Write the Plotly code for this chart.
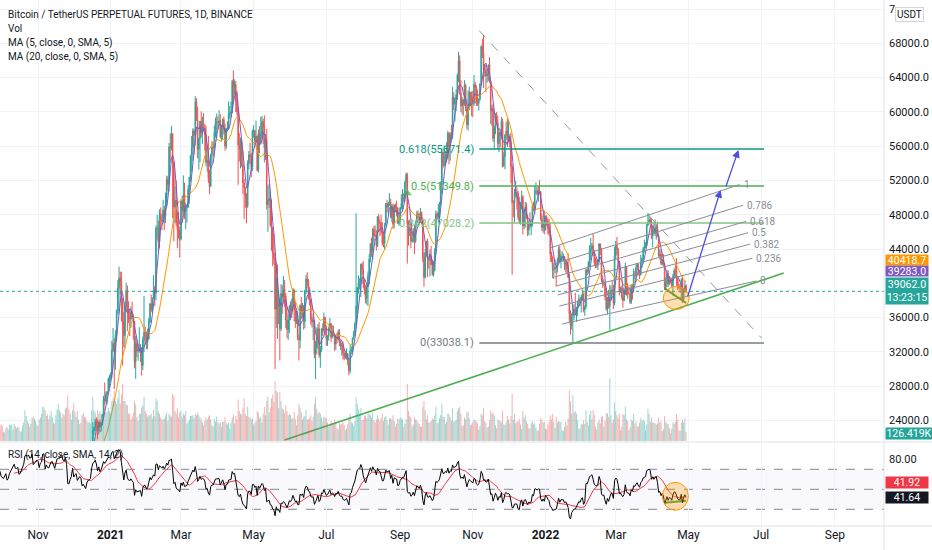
import pandas as pd
import numpy as np
import plotly.graph_objects as go

# ---------------- DATA (daily rows: close, high, low in thousand USDT; volume in thousand BTC) -------------
sep_2020 = [(10.79,10.94,10.63,210),(10.95,11.10,10.67,190),(10.94,11.04,10.75,200),(10.93,11.04,10.81,170),
            (11.08,11.18,10.89,150),(10.92,11.08,10.77,160),(10.42,10.99,10.31,260),(10.53,10.57,10.36,230),
            (10.24,10.54,10.14,240),(10.74,10.77,10.20,250),(10.69,10.77,10.57,190),(10.72,10.78,10.65,120),
            (10.77,10.80,10.63,130),(10.69,10.95,10.66,210),(10.84,10.86,10.64,220),(10.78,10.84,10.68,200)]
oct_2020 = [(10.62,10.92,10.52,230),(10.57,10.63,10.38,220),(10.55,10.60,10.50,130),(10.67,10.69,10.54,120),
            (10.79,10.80,10.63,180),(10.60,10.80,10.53,200),(10.67,10.69,10.58,160),(10.92,10.95,10.53,230),
            (11.06,11.11,10.83,220),(11.30,11.49,11.05,230),(11.38,11.44,11.28,160),(11.54,11.72,11.25,240),
            (11.43,11.56,11.30,210),(11.43,11.55,11.27,180),(11.50,11.62,11.27,200),(11.32,11.54,11.22,190),
            (11.36,11.40,11.30,130),(11.50,11.52,11.33,140),(11.75,11.82,11.41,220),(11.92,12.03,11.68,260),
            (12.82,13.24,11.90,430),(12.97,13.18,12.70,350),(12.93,13.03,12.72,280),(13.12,13.17,12.88,250),
            (13.03,13.34,12.90,200),(13.07,13.25,12.78,240),(13.64,13.79,13.05,330),(13.28,13.86,13.13,340),
            (13.46,13.65,12.97,310),(13.56,13.67,13.10,280),(13.80,14.10,13.43,230)]
nov_2020 = [(13.76,13.90,13.62,210),(13.55,13.82,13.20,300),(14.03,14.07,13.29,330),(14.15,14.25,13.53,380),
            (15.59,15.76,14.09,480),(15.59,15.97,15.20,470),(14.83,15.77,14.34,430),(15.48,15.66,14.71,350),
            (15.33,15.84,14.80,370),(15.30,15.48,15.09,300),(15.70,15.97,15.27,360),(16.28,16.48,15.44,420),
            (16.32,16.48,15.95,330),(16.07,16.33,15.71,260),(15.96,16.16,15.80,240),(16.73,16.88,15.87,360),
            (17.66,17.86,16.55,440),(17.80,18.48,17.21,520),(17.82,18.14,17.35,430),(18.68,18.80,17.75,400),
            (18.70,18.97,18.03,330),(18.42,18.75,17.61,380),(18.37,18.77,18.00,360),(19.16,19.42,18.06,450),
            (18.72,19.49,18.54,470),(17.15,18.93,16.33,640),(17.14,17.46,16.52,440),(17.72,17.88,16.88,380),
            (18.18,18.34,17.54,300),(19.70,19.86,18.18,430)]
dec_2020 = [(18.79,19.92,18.32,530),(19.22,19.30,18.51,410),(19.45,19.59,18.86,340),(18.70,19.52,18.56,420),
            (19.15,19.18,18.52,300),(19.36,19.42,18.86,240),(19.17,19.42,18.90,260),(18.32,19.30,18.20,360),
            (18.55,18.64,17.65,390),(18.25,18.56,17.91,340),(18.04,18.28,17.57,330),(18.80,18.95,18.02,280),
            (19.17,19.41,18.71,260),(19.27,19.35,19.00,270),(19.44,19.57,19.05,250),(21.35,21.55,19.28,430),
            (22.80,23.77,21.23,620),(23.13,23.28,22.35,430),(23.86,24.17,22.75,400),(23.48,24.30,23.07,340),
            (22.75,24.10,21.82,430),(23.82,23.85,22.35,380),(23.24,24.10,22.60,420),(23.73,23.79,22.70,380),
            (24.69,24.78,23.42,300),(26.49,26.87,24.50,430),(26.27,28.42,25.83,550),(27.04,27.39,26.10,400),
            (27.35,27.40,25.88,410),(28.89,28.99,27.32,470),(28.98,29.30,27.85,420)]
jan_2021 = [(29.37,29.60,28.62,380),(32.20,33.30,28.95,560),(33.00,34.78,31.96,600),(32.03,33.60,27.68,700),
            (34.03,34.50,29.90,560),(36.82,36.94,33.30,520),(39.43,40.36,36.30,600),(40.61,41.95,36.50,720),
            (40.24,41.37,38.72,520),(38.24,41.35,35.55,650),(35.54,38.26,30.40,800),(33.91,36.63,32.53,560),
            (37.39,37.85,32.38,560),(39.15,40.10,36.70,510),(36.77,39.75,34.41,500),(36.01,37.90,35.36,380),
            (35.80,36.85,33.85,380),(36.63,37.30,34.81,300),(36.02,37.85,35.87,340),(35.55,36.42,33.40,400),
            (30.83,35.60,30.07,560),(32.98,33.83,28.85,510),(32.08,33.46,31.39,340),(32.27,32.94,30.96,280),
            (32.27,34.88,31.90,380),(32.51,32.92,30.84,380),(30.41,32.56,29.24,470),(33.40,33.78,29.88,500),
            (34.30,38.53,31.99,620),(34.27,34.93,32.86,420),(33.10,34.32,32.30,380)]
feb_2021 = [(33.52,34.72,32.30,340),(35.48,35.98,33.40,360),(37.62,37.66,35.36,360),(36.94,38.69,36.62,380),
            (38.29,38.31,36.57,320),(39.22,40.96,38.22,440),(38.87,39.69,37.35,350),(46.40,46.75,38.03,600),
            (46.48,48.00,45.10,560),(44.81,47.31,43.73,420),(47.97,48.63,44.09,380),(47.41,48.85,46.25,330),
            (47.23,48.14,46.20,300),(48.59,49.70,47.00,300),(47.91,49.00,46.20,320),(49.13,50.58,47.02,360),
            (52.12,52.58,48.95,400),(51.55,52.50,50.90,280),(55.91,56.37,50.70,380),(55.89,57.50,54.10,360),
            (57.41,58.35,55.50,340),(54.09,57.55,47.60,660),(48.90,54.20,44.90,630),(49.68,51.30,47.00,420),
            (47.07,52.00,46.70,380),(46.28,48.40,44.10,460),(46.20,48.25,45.20,330),(45.14,46.65,43.00,400)]
mar_2021 = [(49.59,49.78,45.00,420),(48.44,50.20,47.05,330),(50.35,52.60,48.10,380),(48.37,51.75,47.50,360),
            (48.76,49.40,46.30,420),(48.88,49.20,47.07,240),(50.97,51.45,48.86,270),(52.38,52.40,49.27,300),
            (54.88,54.90,51.85,350),(55.86,57.20,53.00,350),(57.80,58.10,54.27,360),(57.26,58.00,55.06,320),
            (61.20,61.84,56.08,380),(59.00,61.60,58.95,360),(55.63,60.60,54.60,400),(56.90,56.95,53.27,360),
            (58.90,58.98,54.12,330),(57.64,60.07,57.02,300),(58.30,59.45,56.27,260),(58.10,59.88,57.82,220),
            (57.35,58.60,55.45,280),(54.08,58.43,53.65,330),(54.34,55.85,53.00,300),(52.30,57.20,51.70,340),
            (51.30,53.25,50.40,360),(55.04,55.10,51.32,300),(55.84,56.58,53.98,220),(55.78,56.55,54.70,200),
            (57.61,58.40,54.90,310),(58.78,59.35,57.03,270),(58.80,59.80,56.90,340)]
apr_2021 = [(58.74,59.46,57.93,270),(58.98,60.20,58.42,240),(57.06,59.75,56.90,260),(58.20,58.50,56.55,200),
            (59.12,59.24,56.80,270),(57.98,59.45,57.38,270),(56.00,58.65,55.47,340),(58.07,58.15,55.70,250),
            (58.10,58.88,57.70,230),(59.77,61.23,57.90,260),(59.83,60.70,59.20,170),(59.96,61.20,59.40,260),
            (63.58,63.77,59.85,330),(62.96,64.85,61.30,370),(63.22,63.80,62.02,250),(61.33,63.60,60.00,350),
            (60.02,62.50,59.60,300),(56.15,60.40,51.50,580),(55.67,57.52,54.20,420),(56.47,57.00,53.40,380),
            (53.80,56.72,53.60,370),(51.70,55.50,50.40,460),(51.15,52.15,47.50,600),(50.10,51.20,48.80,380),
            (49.00,50.50,47.00,350),(54.00,54.35,48.80,480),(55.00,55.45,53.30,340),(54.85,56.40,53.90,330),
            (53.55,55.20,52.35,300),(57.75,57.95,53.10,320)]
may_2021 = [(57.80,58.45,57.00,230),(56.58,57.90,56.05,250),(57.17,58.98,56.45,280),(53.20,57.20,53.05,420),
            (57.50,57.95,52.90,400),(56.40,58.35,55.20,320),(57.35,59.45,56.20,330),(58.85,59.50,56.90,260),
            (58.25,59.20,56.25,380),(55.80,59.60,54.10,480),(56.70,57.00,54.40,360),(49.20,58.00,48.60,560),
            (49.70,51.40,46.00,620),(49.90,51.60,48.80,400),(46.75,50.70,46.60,470),(46.40,49.80,43.80,600),
            (43.55,46.60,42.00,650),(42.90,45.80,42.20,550),(37.00,43.50,30.00,840),(40.60,42.40,34.80,700),
            (37.30,42.20,33.50,680),(37.50,38.80,35.25,460),(34.70,38.25,31.00,690),(38.80,39.90,34.40,560),
            (38.35,39.80,36.40,460),(39.30,40.85,37.80,440),(38.50,40.40,37.20,390),(35.70,38.85,34.75,500),
            (34.60,37.30,33.60,420),(35.70,36.45,33.40,360),(37.30,37.50,34.20,380)]
jun_2021 = [(36.70,37.90,35.70,360),(37.60,38.20,35.95,310),(39.25,39.45,37.20,320),(36.85,39.30,35.60,410),
            (35.50,37.90,34.80,300),(35.80,36.80,35.25,220),(33.55,36.75,33.35,360),(33.40,34.05,31.00,520),
            (37.40,37.55,32.40,470),(36.70,38.40,35.80,400),(37.35,37.70,35.95,300),(35.55,37.45,34.60,340),
            (39.10,39.25,34.75,350),(40.50,41.00,38.75,440),(40.15,41.30,39.50,300),(38.35,40.50,38.10,300),
            (38.10,39.55,37.40,320),(35.80,38.20,35.15,360),(35.50,36.45,34.85,280),(35.60,36.10,33.35,340),
            (31.70,35.75,31.25,520),(32.50,33.30,28.80,620),(33.70,34.85,31.70,450),(34.70,35.25,32.30,380),
            (31.60,35.50,31.30,410),(32.20,32.70,30.15,380),(34.70,34.75,32.00,330),(34.50,35.30,33.85,270),
            (36.00,36.60,34.25,340),(35.00,36.10,34.00,330)]
jul_2021 = [(33.50,35.05,32.70,320),(33.80,33.95,32.70,260),(34.70,34.95,33.30,200),(35.30,35.95,34.40,220),
            (33.70,35.30,33.15,280),(34.20,35.10,33.55,250),(33.90,35.05,33.80,240),(32.90,33.95,32.10,300),
            (33.80,34.05,32.25,260),(33.50,34.25,33.00,180),(34.30,34.60,33.30,160),(33.10,34.65,32.65,250),
            (32.70,33.35,32.20,230),(32.80,33.10,31.55,240),(31.80,33.20,31.10,270),(31.40,32.25,31.00,230),
            (31.50,31.95,31.15,150),(31.80,32.40,31.10,170),(30.80,31.85,30.40,230),(29.80,31.05,29.25,330),
            (32.10,32.85,29.50,380),(32.30,32.60,31.70,260),(33.60,33.65,32.00,250),(34.30,34.45,33.40,210),
            (35.40,35.40,33.85,280),(37.30,48.17,35.20,620),(39.50,39.55,36.40,520),(40.00,40.90,38.80,440),
            (40.00,40.60,39.30,380),(42.20,42.30,38.40,460),(41.60,42.40,41.00,290)]
aug_2021 = [(39.90,42.60,39.45,300),(39.20,40.45,38.70,350),(38.20,39.80,37.65,360),(39.70,39.95,37.50,320),
            (40.90,41.40,37.35,380),(42.80,43.40,39.85,380),(44.60,44.70,42.45,360),(43.80,45.30,43.10,330),
            (46.30,46.45,42.80,400),(45.60,46.70,44.95,290),(45.55,46.75,45.35,260),(44.40,46.20,43.80,300),
            (47.80,47.85,44.25,360),(47.10,48.10,45.95,310),(47.00,47.40,45.50,280),(46.00,48.00,45.70,320),
            (44.70,47.15,44.40,380),(44.70,46.00,44.20,280),(46.80,47.05,43.95,330),(49.30,49.35,46.65,350),
            (48.90,49.75,48.30,290),(49.30,49.50,48.10,230),(49.50,50.50,49.05,320),(47.70,49.85,47.60,320),
            (49.00,49.25,47.15,300),(46.90,49.30,46.35,360),(49.10,49.20,46.40,280),(48.90,49.30,48.40,200),
            (48.80,49.65,47.80,240),(47.00,48.90,46.90,320),(47.20,48.25,46.70,300)]
sep_2021 = [(48.80,48.90,46.90,330),(49.30,50.40,48.60,320),(50.00,51.00,48.40,300),(49.90,50.55,49.50,200),
            (51.80,51.90,49.50,240),(52.70,52.95,50.95,300),(46.90,52.90,42.30,800),(46.10,47.35,44.40,420),
            (46.40,47.40,45.50,350),(44.90,47.00,44.10,330),(45.20,45.95,44.75,200),(46.10,46.45,44.75,230),
            (44.90,46.85,43.40,340),(47.10,47.25,44.70,300),(48.10,48.45,46.75,290),(47.80,48.50,47.05,260),
            (47.30,48.15,46.80,240),(48.30,48.80,47.05,200),(47.30,48.35,46.85,200),(43.00,47.35,42.50,480),
            (40.70,43.60,39.60,560),(43.60,44.00,40.55,430),(44.90,44.95,43.10,300),(42.80,45.20,40.70,360),
            (42.70,42.95,41.70,260),(43.20,43.95,40.80,260),(42.20,44.35,42.10,280),(41.00,42.80,40.90,320),
            (41.50,42.60,40.80,300),(43.80,44.10,41.40,360)]
oct_2021 = [(48.10,48.50,43.30,480),(47.70,48.35,47.45,250),(48.20,49.25,47.10,260),(49.20,49.50,46.90,320),
            (51.50,51.90,49.05,360),(55.30,55.75,50.40,520),(53.80,55.30,53.40,340),(53.90,56.10,53.60,340),
            (55.00,55.45,53.70,240),(54.70,56.50,54.10,270),(57.50,57.80,54.45,380),(56.00,57.65,53.90,380),
            (57.40,57.65,54.30,340),(57.30,58.50,56.85,280),(61.70,62.90,56.85,460),(60.90,62.30,60.20,270),
            (61.50,61.70,58.90,280),(62.00,62.65,60.10,300),(64.30,64.50,61.40,420),(66.00,67.00,63.50,460),
            (62.20,66.60,62.00,480),(60.70,63.70,60.00,380),(61.40,61.75,59.70,210),(60.90,61.50,59.50,220),
            (63.10,63.70,60.70,330),(60.40,63.30,60.10,300),(58.50,61.50,58.00,400),(60.60,62.50,57.80,410),
            (62.30,62.95,60.20,320),(61.90,62.30,60.70,220),(61.30,62.40,59.50,230)]
nov_2021 = [(61.00,62.45,59.40,260),(63.20,64.30,60.70,300),(62.90,63.50,61.00,290),(61.40,63.10,60.70,270),
            (61.00,62.60,60.70,250),(61.50,61.60,60.15,160),(63.30,63.30,61.30,210),(67.60,67.80,63.10,380),
            (66.90,68.50,66.30,360),(64.90,69.00,62.80,460),(64.90,65.60,64.10,280),(64.20,65.50,62.30,260),
            (64.40,65.00,63.40,190),(65.50,65.50,63.60,200),(63.60,66.40,63.40,290),(60.10,63.60,58.60,430),
            (60.40,60.80,58.40,380),(56.90,60.95,56.50,400),(58.10,58.40,55.60,360),(59.70,59.85,57.40,220),
            (58.70,60.00,58.50,180),(56.30,59.50,55.65,300),(57.60,58.00,55.30,290),(57.20,57.80,55.85,280),
            (58.90,59.40,56.80,260),(53.70,59.20,53.50,420),(54.80,55.30,53.60,230),(57.30,57.40,53.30,230),
            (57.80,58.85,56.70,270),(57.00,59.20,55.90,350)]
dec_2021 = [(57.20,59.05,56.50,300),(56.50,57.40,55.85,250),(53.60,57.60,51.70,350),(49.40,53.90,41.00,660),
            (49.40,49.70,47.70,300),(50.60,51.00,47.10,380),(50.60,51.95,50.00,250),(50.50,51.20,48.60,280),
            (47.70,50.80,47.40,270),(47.20,50.10,46.90,310),(49.40,49.50,46.85,230),(50.10,50.80,48.65,170),
            (46.70,50.30,45.70,420),(48.40,48.70,46.30,320),(48.90,49.50,46.50,360),(47.60,49.40,47.50,280),
            (46.20,48.00,45.50,240),(46.90,47.30,45.60,180),(46.70,48.30,46.40,180),(46.90,47.50,45.60,250),
            (49.00,49.30,46.60,280),(48.60,49.55,48.40,230),(50.80,51.35,48.10,250),(50.80,51.80,50.40,190),
            (50.40,51.20,50.20,140),(50.80,51.30,49.50,150),(50.70,52.05,50.50,240),(47.50,50.70,47.30,320),
            (46.50,48.10,46.10,300),(47.10,47.90,45.90,260),(46.20,48.50,45.70,270)]
jan_2022 = [(47.70,47.90,46.20,170),(47.30,47.95,46.70,160),(46.40,47.55,45.70,230),(45.80,47.50,45.50,270),
            (43.40,47.05,42.50,360),(43.10,43.70,42.45,300),(41.60,43.10,40.60,380),(41.70,42.30,40.50,270),
            (41.90,42.80,41.20,180),(41.80,42.20,39.60,340),(42.70,43.00,41.25,260),(43.90,44.30,42.45,280),
            (42.60,44.40,42.30,270),(43.10,43.45,41.75,270),(43.10,43.80,42.60,150),(43.10,43.50,42.60,140),
            (42.20,43.20,41.55,200),(42.40,42.70,41.25,270),(41.70,42.60,41.10,220),(40.70,43.50,40.60,310),
            (36.45,41.10,35.50,710),(35.05,36.85,34.00,560),(36.25,36.50,34.60,380),(36.65,37.50,33.04,640),
            (36.95,37.55,35.70,400),(36.80,38.90,36.25,420),(37.15,37.25,35.50,380),(37.70,38.00,36.15,290),
            (38.15,38.70,37.30,170),(37.90,38.35,37.35,180),(38.45,38.70,36.60,240)]
feb_2022 = [(38.70,39.25,38.00,230),(36.90,38.85,36.60,290),(37.30,37.40,36.20,240),(41.55,41.70,37.00,430),
            (41.40,41.90,40.95,270),(42.40,42.60,41.10,220),(43.80,44.45,41.90,370),(44.00,45.30,42.70,420),
            (44.40,44.70,43.15,300),(43.50,45.80,43.20,430),(42.40,43.90,42.00,360),(42.20,43.00,41.75,200),
            (42.10,42.75,41.80,160),(42.50,42.80,41.55,260),(44.60,44.70,42.40,300),(43.90,44.55,43.30,250),
            (40.50,44.15,40.10,340),(40.00,40.95,39.45,350),(40.10,40.45,39.65,200),(38.40,40.10,38.00,280),
            (37.00,39.45,36.80,380),(38.30,38.40,36.35,390),(37.30,39.25,37.05,340),(38.30,39.80,34.50,880),
            (39.20,39.70,38.00,360),(39.10,40.30,38.60,260),(37.70,39.80,37.00,300),(43.20,44.25,37.45,540)]
mar_2022 = [(44.40,44.95,42.80,420),(44.00,45.40,43.35,360),(42.45,44.10,41.85,320),(39.15,42.50,38.60,380),
            (39.40,39.60,38.90,150),(38.40,39.70,38.10,200),(38.00,39.50,37.15,380),(38.70,39.35,37.90,360),
            (41.95,42.40,38.65,480),(39.40,42.00,38.55,300),(38.80,40.00,38.20,280),(38.80,39.50,38.70,150),
            (37.80,39.30,37.60,190),(39.65,39.90,37.60,300),(39.30,39.90,38.10,280),(41.10,41.70,38.90,380),
            (40.90,41.45,40.50,240),(41.80,42.30,40.15,270),(42.20,42.40,41.50,200),(41.30,42.30,40.90,210),
            (41.00,41.55,40.50,260),(42.40,43.35,40.90,320),(42.90,43.00,41.80,280),(44.00,44.25,42.60,300),
            (44.30,45.10,43.60,280),(44.50,44.80,44.10,150),(46.80,46.90,44.40,230),(47.10,48.20,46.65,450),
            (47.40,48.10,46.90,380),(47.10,47.70,46.50,270),(45.50,47.60,45.20,330)]
apr_2022 = [(46.30,46.70,44.20,260),(45.80,47.20,45.70,260),(46.40,47.45,45.50,250),(46.60,46.90,45.10,230),
            (45.50,47.20,45.40,250),(43.20,45.50,43.10,330),(43.40,43.90,42.75,260),(42.30,43.95,42.10,280),
            (42.80,42.80,42.10,140),(42.20,43.40,42.00,170),(39.50,42.40,39.20,350),(40.10,40.70,39.25,270),
            (41.10,41.55,39.55,240),(39.90,41.50,39.60,240),(40.50,40.85,39.80,180),(40.40,40.70,40.00,110),
            (39.70,40.60,39.55,170),(40.80,41.10,38.55,260),(41.50,41.75,40.55,240),(41.40,42.20,40.80,270),
            (40.50,42.95,39.75,380),(39.70,40.80,39.20,300),(39.45,39.95,39.30,150),(39.45,39.90,38.90,140),
            (40.40,40.60,38.20,260),(38.10,40.80,37.70,300),(39.20,39.45,37.90,260),(39.70,40.35,38.90,320),
            (39.062,39.90,38.90,126.419)]

MONTHS = [("2020-09-15", sep_2020), ("2020-10-01", oct_2020), ("2020-11-01", nov_2020), ("2020-12-01", dec_2020),
          ("2021-01-01", jan_2021), ("2021-02-01", feb_2021), ("2021-03-01", mar_2021), ("2021-04-01", apr_2021),
          ("2021-05-01", may_2021), ("2021-06-01", jun_2021), ("2021-07-01", jul_2021), ("2021-08-01", aug_2021),
          ("2021-09-01", sep_2021), ("2021-10-01", oct_2021), ("2021-11-01", nov_2021), ("2021-12-01", dec_2021),
          ("2022-01-01", jan_2022), ("2022-02-01", feb_2022), ("2022-03-01", mar_2022), ("2022-04-01", apr_2022)]

# price-scale value labels shown in the reference
LAST_PRICE = 39062.0
MA20_LABEL = "40418.7"
MA5_LABEL = "39283.0"
COUNTDOWN = "13:23:15"
VOL_LABEL = "126.419K"
VOL_LAST = 126.419
RSI_MA_LABEL = "41.92"
RSI_LABEL = "41.64"

PRICE_TICKS = [24000, 28000, 32000, 36000, 44000, 48000, 52000, 56000, 60000, 64000, 68000, 72000]
PRICE_TICK_TEXT = ["24000.0", "28000.0", "32000.0", "36000.0", "44000.0", "48000.0", "52000.0",
                   "56000.0", "60000.0", "64000.0", "68000.0", "7"]
RSI_TICKS = [80]
X_TICKS = ["2020-11-01", "2021-01-01", "2021-03-01", "2021-05-01", "2021-07-01", "2021-09-01",
           "2021-11-01", "2022-01-01", "2022-03-01", "2022-05-01", "2022-07-01", "2022-09-01"]
X_TICK_TEXT = ["Nov", "<b>2021</b>", "Mar", "May", "Jul", "Sep", "Nov", "<b>2022</b>", "Mar", "May", "Jul", "Sep"]

# drawings (anchor points: date, price)
FIB_LOW, FIB_HIGH = 33038.1, 69661.5
FIB_LEVELS = [0, 0.382, 0.5, 0.618]
FIB_COLORS = {0: "#787b86", 0.382: "#81c784", 0.5: "#4caf50", 0.618: "#089981"}
FIB_X = ("2021-11-06 10:00", "2022-07-03 10:00")
CH0 = (("2022-01-15", 35250), ("2022-06-27", 40270))      # channel level 0
CH1 = (("2022-01-05", 44120), ("2022-06-13", 51530))      # channel level 1
CH_LEVELS = [0, 0.236, 0.382, 0.5, 0.618, 0.786, 1]
DIAG = (("2021-11-06 10:00", 69480), ("2022-07-01 12:00", 33580))
TREND = (("2021-05-27", 21710), ("2022-07-20", 41200))
SMALL_GREEN = (("2022-04-11", 39400), ("2022-04-29", 37700))
ARROW1 = (("2022-04-30", 38290), ("2022-05-28", 50890))
ARROW2 = (("2022-06-01", 51120), ("2022-06-12", 55560))
CIRCLE_PRICE = ("2022-04-20 18:00", 38285)
CIRCLE_RSI = ("2022-04-20", 43.0)
RSI_GREEN = (("2022-04-11", 36.6), ("2022-04-29", 38.6))
MARK_UP = ("2021-09-07", 50500)

# ---------------- BUILD ----------------
frames = []
for start, rows in MONTHS:
    idx = pd.date_range(start, periods=len(rows), freq="D")
    frames.append(pd.DataFrame(rows, index=idx, columns=["close", "high", "low", "vol"]))
df = pd.concat(frames)
df[["close", "high", "low"]] = df[["close", "high", "low"]] * 1000
df["open"] = df["close"].shift(1).fillna(df["close"])
df["high"] = df[["high", "open", "close"]].max(axis=1)
df["low"] = df[["low", "open", "close"]].min(axis=1)

ma5 = df["close"].rolling(5).mean()
ma20 = df["close"].rolling(20).mean()
delta = df["close"].diff()
gain = delta.clip(lower=0)
loss = -delta.clip(upper=0)
ag = gain.ewm(alpha=1/14, adjust=False, min_periods=14).mean()
al = loss.ewm(alpha=1/14, adjust=False, min_periods=14).mean()
rsi = 100 - 100 / (1 + ag / al)
rsi_ma = rsi.rolling(14).mean()

UP, DN = "#26a69a", "#ef5350"
vol_colors = np.where(df["close"] >= df["open"], "rgba(38,166,154,0.5)", "rgba(239,83,80,0.5)")

TXT = "#131722"
GRID = "#f0f3fa"
FONT = "Roboto"

fig = go.Figure()
fig.add_trace(go.Bar(x=df.index, y=df["vol"], marker=dict(color=vol_colors, line=dict(width=0)),
                     xaxis="x", yaxis="y3", hoverinfo="skip", showlegend=False))
fig.add_trace(go.Candlestick(x=df.index, open=df["open"], high=df["high"], low=df["low"], close=df["close"],
                             increasing=dict(line=dict(color=UP, width=1), fillcolor=UP),
                             decreasing=dict(line=dict(color=DN, width=1), fillcolor=DN),
                             whiskerwidth=0, xaxis="x", yaxis="y", showlegend=False, hoverinfo="skip"))
fig.add_trace(go.Scatter(x=df.index, y=ma20, mode="lines", line=dict(color="#ff9800", width=1),
                         xaxis="x", yaxis="y", hoverinfo="skip", showlegend=False))
fig.add_trace(go.Scatter(x=df.index, y=ma5, mode="lines", line=dict(color="#7e57c2", width=1),
                         xaxis="x", yaxis="y", hoverinfo="skip", showlegend=False))


def seg(p, color, width=1, dash=None, yaxis="y"):
    fig.add_trace(go.Scatter(x=[p[0][0], p[1][0]], y=[p[0][1], p[1][1]], mode="lines",
                             line=dict(color=color, width=width, dash=dash), xaxis="x", yaxis=yaxis,
                             hoverinfo="skip", showlegend=False))


annotations = []

# fib retracement
for lvl in FIB_LEVELS:
    price = FIB_LOW + lvl * (FIB_HIGH - FIB_LOW)
    seg(((FIB_X[0], price), (FIB_X[1], price)), FIB_COLORS[lvl], 1.5)
    annotations.append(dict(x=FIB_X[0], y=price, xref="x", yref="y", text=f"{lvl:g}({price:.1f})",
                            showarrow=False, xanchor="right", yanchor="middle", xshift=-3,
                            font=dict(family=FONT, size=11, color=FIB_COLORS[lvl])))


def lerp_t(a, b, f):
    ta, tb = pd.Timestamp(a), pd.Timestamp(b)
    return ta + (tb - ta) * f


# fib channel
for lvl in CH_LEVELS:
    s = (lerp_t(CH0[0][0], CH1[0][0], lvl), CH0[0][1] + lvl * (CH1[0][1] - CH0[0][1]))
    e = (lerp_t(CH0[1][0], CH1[1][0], lvl), CH0[1][1] + lvl * (CH1[1][1] - CH0[1][1]))
    seg((s, e), "#8a8d96", 1)
    annotations.append(dict(x=e[0], y=e[1], xref="x", yref="y", text=f"{lvl:g}", showarrow=False,
                            xanchor="left", yanchor="middle", xshift=2,
                            font=dict(family=FONT, size=10, color="#8a8d96")))

seg(DIAG, "#9598a1", 1, "dash")
seg(TREND, "#4caf50", 1.6)
seg(SMALL_GREEN, "#43a047", 2)
seg(RSI_GREEN, "#43a047", 2, yaxis="y2")

fig.add_trace(go.Scatter(x=[MARK_UP[0]], y=[MARK_UP[1]], mode="markers",
                         marker=dict(symbol="triangle-up", size=8, color="rgba(76,175,80,0.75)"),
                         xaxis="x", yaxis="y", hoverinfo="skip", showlegend=False))

# RSI
fig.add_trace(go.Scatter(x=df.index, y=rsi_ma, mode="lines", line=dict(color="#f23645", width=1),
                         xaxis="x", yaxis="y2", hoverinfo="skip", showlegend=False))
fig.add_trace(go.Scatter(x=df.index, y=rsi, mode="lines", line=dict(color="#000000", width=1),
                         xaxis="x", yaxis="y2", hoverinfo="skip", showlegend=False))

# arrows
for a in (ARROW1, ARROW2):
    annotations.append(dict(x=a[1][0], y=a[1][1], ax=a[0][0], ay=a[0][1], xref="x", yref="y",
                            axref="x", ayref="y", showarrow=True, arrowhead=2, arrowsize=1.2,
                            arrowwidth=1.3, arrowcolor="#4d4de0", text=""))

shapes = []
shapes.append(dict(type="rect", xref="paper", yref="y2", x0=0, x1=1, y0=30, y1=70,
                   fillcolor="rgba(126,87,194,0.045)", line=dict(width=0), layer="below"))
for v in (70, 50, 30):
    shapes.append(dict(type="line", xref="paper", yref="y2", x0=0, x1=1, y0=v, y1=v,
                       line=dict(color="#868993", width=1, dash="dash"), layer="below"))
shapes.append(dict(type="line", xref="paper", yref="y", x0=0, x1=1, y0=LAST_PRICE, y1=LAST_PRICE,
                   line=dict(color="#26a69a", width=1, dash="dot")))
shapes.append(dict(type="circle", xref="x", yref="y", xsizemode="pixel", ysizemode="pixel",
                   xanchor=CIRCLE_PRICE[0], yanchor=CIRCLE_PRICE[1], x0=-13, x1=13, y0=-11.5, y1=11.5,
                   fillcolor="rgba(255,152,0,0.3)", line=dict(color="#ff9800", width=1)))
shapes.append(dict(type="circle", xref="x", yref="y2", xsizemode="pixel", ysizemode="pixel",
                   xanchor=CIRCLE_RSI[0], yanchor=CIRCLE_RSI[1], x0=-13, x1=13, y0=-14, y1=14,
                   fillcolor="rgba(255,152,0,0.3)", line=dict(color="#ff9800", width=1)))
# pane separators / scale border
PLOT_H = 526.0
W_PLOT = 884.0
shapes.append(dict(type="line", xref="paper", yref="paper", x0=0, x1=932 / W_PLOT,
                   y0=(PLOT_H - 442) / PLOT_H, y1=(PLOT_H - 442) / PLOT_H, line=dict(color="#e0e3eb", width=1)))
shapes.append(dict(type="line", xref="paper", yref="paper", x0=0, x1=932 / W_PLOT, y0=0, y1=0,
                   line=dict(color="#e0e3eb", width=1)))
shapes.append(dict(type="line", xref="paper", yref="paper", x0=1, x1=1, y0=-24 / PLOT_H, y1=1,
                   line=dict(color="#e0e3eb", width=1)))


def hdr(text, py, px=6, size=10):
    annotations.append(dict(x=px / W_PLOT, y=(PLOT_H - py) / PLOT_H, xref="paper", yref="paper", text=text,
                            showarrow=False, xanchor="left", yanchor="middle",
                            font=dict(family=FONT, size=size, color=TXT)))


hdr("Bitcoin / TetherUS PERPETUAL FUTURES, 1D, BINANCE", 15)
hdr("Vol", 29)
hdr("MA (5, close, 0, SMA, 5)", 43)
hdr("MA (20, close, 0, SMA, 5)", 57)
hdr("RSI (14, close, SMA, 14, 2)", 455)


def tag(text, y, yref, bg, yshift=0, h=11, w=42, fc="white"):
    annotations.append(dict(x=1, y=y, xref="paper", yref=yref, text=text, showarrow=False,
                            xanchor="left", yanchor="middle", xshift=1, yshift=yshift, width=w, height=h,
                            bgcolor=bg, borderpad=0, align="center",
                            font=dict(family=FONT, size=10.5, color=fc)))


tag(MA20_LABEL, float(MA20_LABEL), "y", "#ff9800", yshift=19.8, h=10)
tag(MA5_LABEL, float(MA5_LABEL), "y", "#7e57c2", yshift=18.6, h=10)
tag(f"{LAST_PRICE:.1f}<br>{COUNTDOWN}", LAST_PRICE, "y", "#26a69a", h=26)
tag(VOL_LABEL, VOL_LAST, "y3", "#26a69a", yshift=-2, w=46)
tag(RSI_MA_LABEL, float(RSI_MA_LABEL), "y2", "#f23645", yshift=15)
tag(RSI_LABEL, float(RSI_LABEL), "y2", "#131722")
annotations.append(dict(x=1, y=1, xref="paper", yref="paper", text="USDT", showarrow=False,
                        xanchor="left", yanchor="middle", xshift=11, yshift=-14, bgcolor="white",
                        bordercolor="#d1d4dc", borderwidth=1, borderpad=1,
                        font=dict(family=FONT, size=10, color=TXT)))

PRICE_DOM = [1 - 441 / PLOT_H, 1]
RSI_DOM = [0, (PLOT_H - 443) / PLOT_H]

fig.update_layout(
    width=932, height=550, margin=dict(l=0, r=48, t=0, b=24),
    paper_bgcolor="white", plot_bgcolor="white", showlegend=False, bargap=0.25,
    font=dict(family=FONT, size=11, color=TXT),
    xaxis=dict(domain=[0, 1], anchor="y2", type="date", range=["2020-09-30 02:00", "2022-10-12 04:00"],
               tickvals=X_TICKS, ticktext=X_TICK_TEXT, showgrid=True, gridcolor=GRID, gridwidth=1,
               zeroline=False, showline=False, ticks="", tickfont=dict(size=12, color=TXT),
               rangeslider=dict(visible=False)),
    yaxis=dict(domain=PRICE_DOM, anchor="x", side="right", range=[21596, 73061],
               tickvals=PRICE_TICKS, ticktext=PRICE_TICK_TEXT, showgrid=True,
               gridcolor=GRID, zeroline=False, showline=False, ticks="", ticklabelstandoff=4,
               tickfont=dict(size=11, color=TXT)),
    yaxis2=dict(domain=RSI_DOM, anchor="x", side="right", range=[13.3, 96.3],
                tickvals=RSI_TICKS, ticktext=[f"{v:.2f}" for v in RSI_TICKS], showgrid=False,
                zeroline=False, showline=False, ticks="", ticklabelstandoff=4,
                tickfont=dict(size=11, color=TXT)),
    yaxis3=dict(domain=PRICE_DOM, overlaying="y", range=[0, 6174], visible=False),
    shapes=shapes, annotations=annotations,
)

fig.write_html("out.html", config=dict(displayModeBar=False),
               post_script="document.body.style.margin='0px';document.body.style.padding='0px';"
                           "document.body.style.overflow='hidden';")
